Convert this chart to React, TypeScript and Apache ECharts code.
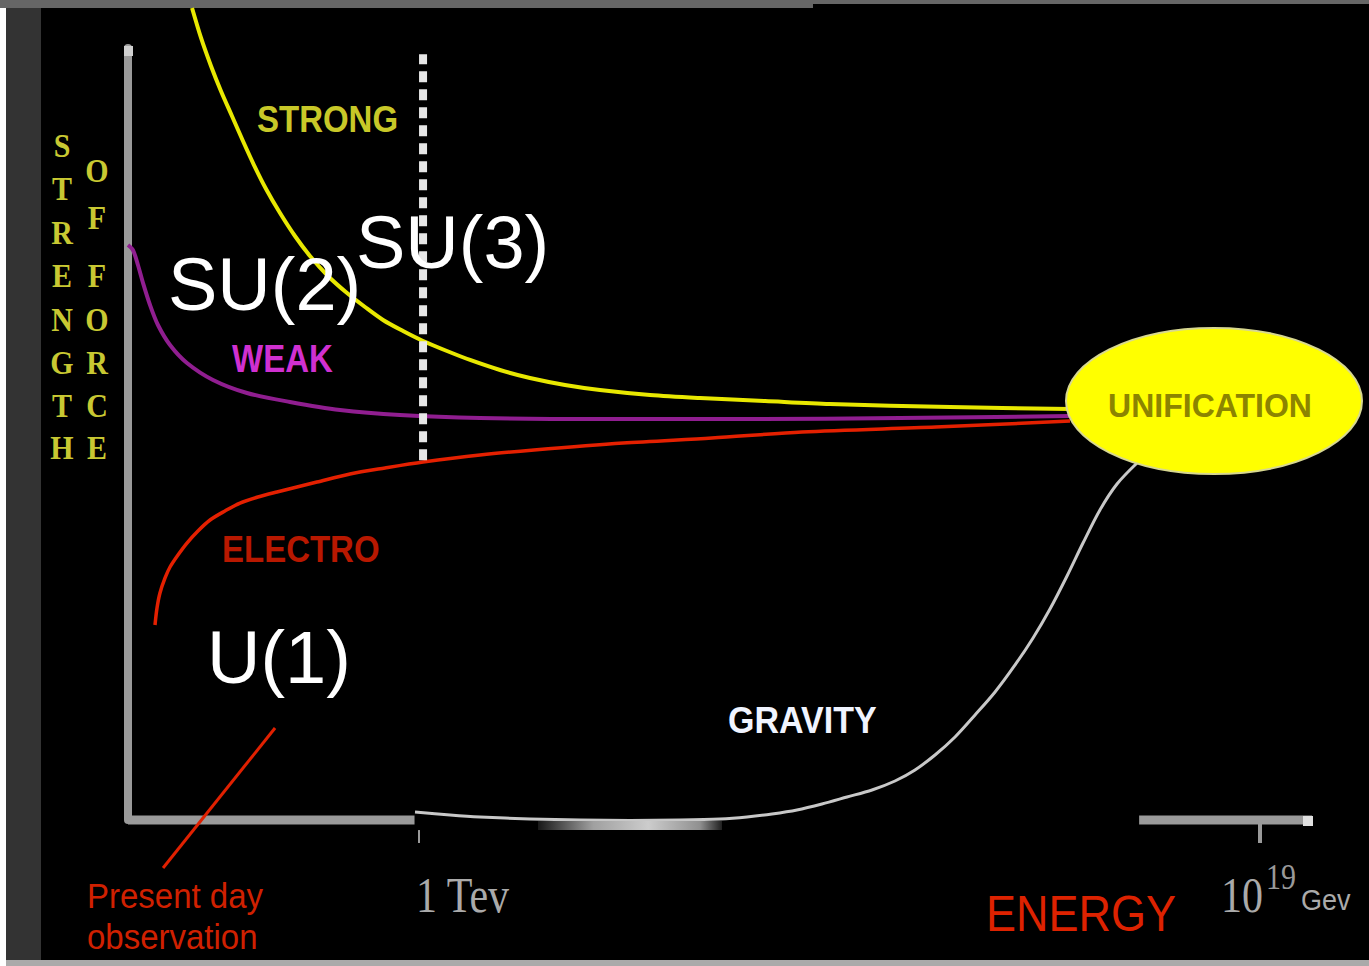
import React, { useEffect, useRef } from "react";
import * as echarts from "echarts";

// Data space: x = energy scale (0 = present day axis, 100 = arrow end), y = strength of force (0 = energy axis, 100 = top of axis)
const strongCurve = [
  [5.41, 105.18], [6.17, 101.3], [7.01, 97.67], [7.85, 94.43], [8.78, 91.19], [9.71, 87.95],
  [10.64, 84.84], [11.66, 81.74], [12.84, 78.63], [14.1, 75.65], [15.37, 73.06], [16.89, 70.47],
  [18.5, 68.26], [20.02, 66.45], [21.54, 64.77], [23.23, 63.34], [24.92, 62.05], [26.94, 60.75],
  [28.89, 59.59], [31.42, 58.29], [33.95, 57.25], [36.91, 56.35], [39.86, 55.7], [44.09, 55.05],
  [48.31, 54.66], [53.8, 54.27], [59.29, 53.89], [69.43, 53.5], [79.56, 53.24],
];
const weakCurve = [
  [0, 74.48], [0.42, 73.83], [0.84, 71.89], [1.27, 69.56], [1.86, 66.71], [2.53, 64.12],
  [3.55, 61.53], [4.98, 59.2], [7.18, 57.0], [10.05, 55.31], [13.68, 54.15], [17.91, 53.11],
  [22.97, 52.46], [29.73, 52.07], [39.86, 51.94], [52.53, 51.94], [65.2, 52.07], [79.56, 52.33],
];
const electroCurve = [
  [2.28, 25.26], [2.45, 27.46], [2.7, 29.4], [3.13, 31.35], [3.55, 32.77], [4.22, 34.33],
  [4.98, 35.88], [5.91, 37.44], [6.93, 38.86], [8.19, 40.03], [9.46, 41.06], [10.98, 41.84],
  [12.58, 42.49], [14.27, 43.13], [15.96, 43.78], [18.75, 44.82], [21.71, 45.6], [24.92, 46.37],
  [29.73, 47.28], [34.29, 47.93], [41.81, 48.83], [49.32, 49.48], [56.93, 50.26], [68.24, 50.91],
  [79.56, 51.68],
];
const gravityCurve = [
  [24.24, 1.04], [27.2, 0.65], [29.73, 0.39], [33.95, 0.13], [38.18, 0], [42.4, -0.06],
  [46.62, 0], [50.0, 0.13], [52.28, 0.39], [54.39, 0.78], [56.5, 1.3], [58.61, 2.07],
  [60.73, 2.98], [62.84, 3.89], [64.78, 5.05], [66.47, 6.48], [68.16, 8.42], [69.85, 10.75],
  [71.54, 13.6], [73.23, 16.58], [74.92, 20.08], [76.44, 23.58], [77.87, 27.33], [79.31, 31.61],
  [80.66, 35.88], [82.09, 40.16], [83.53, 43.52], [85.22, 46.24],
];
const tevLine = [[24.92, 46.6], [24.92, 99.2]];
const axisLeftPart = [[0, 0], [24.2, 0]];
const axisRightPart = [[85.4, 0], [100, 0]];
const tevTick = [[24.58, -1.3], [24.58, -2.98]];
const planckTick = [[95.61, -0.26], [95.61, -2.98]];
const arrowPoints = [[2.96, -6.22], [12.42, 11.92]];

const leftWord = ["S", "T", "R", "E", "N", "G", "T", "H"];
const rightWord = ["O", "F", "", "F", "O", "R", "C", "E"];

const SANS = '"Liberation Sans", Arial, sans-serif';
const SERIF = '"Liberation Serif", "Times New Roman", serif';

function lineSeries(name: string, data: number[][], color: string, width: number, smooth: number | boolean, extra: any = {}) {
  return {
    name,
    type: "line",
    data,
    smooth,
    symbol: "none",
    clip: false,
    silent: true,
    lineStyle: { color, width, cap: "butt", join: "round", ...(extra.lineStyle || {}) },
    z: extra.z ?? 3,
  };
}

function txt(text: string, x: number, y: number, font: string, fill: string, align = "left", scaleY = 1, z = 20) {
  return {
    type: "text",
    x,
    y,
    scaleY,
    z,
    silent: true,
    style: { text, x: 0, y: 0, font, fill, textAlign: align, textVerticalAlign: "middle" },
  };
}

export default function App() {
  const ref = useRef<HTMLDivElement>(null);
  useEffect(() => {
    const chart = echarts.init(ref.current!, null, { renderer: "svg" });
    const letters: any[] = [];
    const rowY = [145, 188, 232, 275, 319, 362, 405, 447];
    const rightY = [170, 217, 0, 275, 319, 362, 405, 447];
    leftWord.forEach((ch, i) => {
      letters.push(txt(ch, 62, rowY[i], `bold 30px ${SERIF}`, "#c8c832", "center", 1.15));
    });
    rightWord.forEach((ch, i) => {
      if (ch) letters.push(txt(ch, 97, rightY[i], `bold 30px ${SERIF}`, "#c8c832", "center", 1.15));
    });

    const option: any = {
      animation: false,
      backgroundColor: "#000",
      grid: { left: 128, top: 48, right: 57, bottom: 146, containLabel: false },
      xAxis: {
        type: "value", min: 0, max: 100,
        axisLine: { show: false }, axisTick: { show: false }, axisLabel: { show: false }, splitLine: { show: false },
      },
      yAxis: {
        type: "value", min: 0, max: 100,
        axisLine: { show: true, lineStyle: { color: "#9a9a9a", width: 8 } },
        axisTick: { show: false }, axisLabel: { show: false }, splitLine: { show: false },
      },
      series: [
        lineSeries("axisL", axisLeftPart, "#9a9a9a", 9, false),
        lineSeries("axisR", axisRightPart, "#9a9a9a", 9, false),
        lineSeries("tickTev", tevTick, "#9a9a9a", 2, false),
        lineSeries("tickPlanck", planckTick, "#9a9a9a", 4, false),
        lineSeries("gravity", gravityCurve, "#c8c8c8", 3, 0.3),
        lineSeries("strong", strongCurve, "#e8e800", 4, 0.3),
        lineSeries("weak", weakCurve, "#901e90", 4, 0.3),
        lineSeries("electro", electroCurve, "#e42000", 3.5, 0.3),
        lineSeries("tev", tevLine, "#e6e6e6", 8, false, { lineStyle: { type: [11, 7] }, z: 4 }),
        lineSeries("arrow", arrowPoints, "#e02000", 3, false),
      ],
      graphic: [
        { type: "rect", silent: true, z: 0, shape: { x: 0, y: 0, width: 813, height: 8 }, style: { fill: "#666666" } },
        { type: "rect", silent: true, z: 0, shape: { x: 813, y: 0, width: 556, height: 4 }, style: { fill: "#666666" } },
        { type: "rect", silent: true, z: 0, shape: { x: 0, y: 8, width: 6, height: 958 }, style: { fill: "#ffffff" } },
        { type: "rect", silent: true, z: 0, shape: { x: 6, y: 8, width: 35, height: 952 }, style: { fill: "#333333" } },
        { type: "rect", silent: true, z: 0, shape: { x: 6, y: 960, width: 1363, height: 6 }, style: { fill: "#aaaaaa" } },
        { type: "rect", silent: true, z: 1, shape: { x: 124, y: 46, width: 9, height: 10 }, style: { fill: "#d0d0d0" } },
        { type: "rect", silent: true, z: 5, shape: { x: 1303, y: 816, width: 10, height: 10 }, style: { fill: "#e0e0e0" } },
        {
          type: "rect", silent: true, z: 5, shape: { x: 538, y: 821, width: 184, height: 9 },
          style: {
            fill: new echarts.graphic.LinearGradient(0, 0, 1, 0, [
              { offset: 0, color: "#181818" },
              { offset: 0.3, color: "#a0a0a0" },
              { offset: 0.6, color: "#cccccc" },
              { offset: 0.88, color: "#909090" },
              { offset: 1, color: "#202020" },
            ]),
          },
        },
        {
          type: "ellipse", silent: true, z: 15,
          shape: { cx: 1214, cy: 401, rx: 148, ry: 73 },
          style: { fill: "#ffff00", stroke: "#d8d890", lineWidth: 2 },
        },
        txt("UNIFICATION", 1210, 405, `bold 32px ${SANS}`, "#8c8400", "center", 1.05, 16),
        txt("STRONG", 257, 119, `bold 33px ${SANS}`, "#c8c828", "left", 1.1),
        txt("WEAK", 232, 359, `bold 33px ${SANS}`, "#d030d0", "left", 1.15),
        txt("ELECTRO", 222, 549, `bold 33px ${SANS}`, "#b81800", "left", 1.12),
        txt("GRAVITY", 728, 720, `bold 34px ${SANS}`, "#f0f4ff", "left", 1.1),
        txt("SU(2)", 168, 284, `74px ${SANS}`, "#ffffff", "left"),
        txt("SU(3)", 356, 242, `74px ${SANS}`, "#ffffff", "left"),
        txt("U(1)", 207, 657, `74px ${SANS}`, "#ffffff", "left"),
        txt("Present day", 87, 896, `33px ${SANS}`, "#d02000", "left", 1.08),
        txt("observation", 87, 937, `33px ${SANS}`, "#d02000", "left", 1.08),
        txt("1 Tev", 416, 895, `42px ${SERIF}`, "#aaaaaa", "left", 1.2),
        txt("ENERGY", 986, 914, `45px ${SANS}`, "#dd2200", "left", 1.12),
        txt("10", 1221, 895, `42px ${SERIF}`, "#aaaaaa", "left", 1.2),
        txt("19", 1266, 877, `30px ${SERIF}`, "#999999", "left", 1.2),
        txt("Gev", 1301, 900, `27px ${SANS}`, "#aaaaaa", "left", 1.1),
        ...letters,
      ],
    };
    chart.setOption(option);
    return () => chart.dispose();
  }, []);
  return (
    <div
      ref={ref}
      style={{ position: "absolute", left: 0, top: 0, width: 1369, height: 966, background: "#000" }}
    />
  );
}
